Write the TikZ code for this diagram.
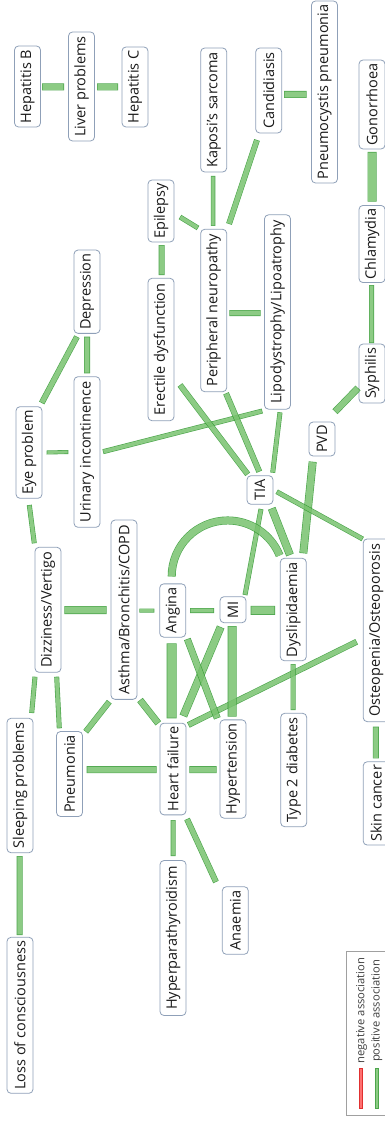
\documentclass[tikz,border=0pt]{standalone}
\usepackage{fontspec}
\setmainfont{Open Sans}
\usetikzlibrary{calc}
\definecolor{nodeborder}{HTML}{8FA0B8}
\definecolor{edgefill}{HTML}{78C26E}
\definecolor{edgeline}{HTML}{2D962D}
\definecolor{legfill}{HTML}{8CCB84}
\definecolor{legedge}{HTML}{4CA64C}
\definecolor{txt}{HTML}{1A1A1A}
\definecolor{negfill}{HTML}{FF7070}
\definecolor{negline}{HTML}{E03030}
\definecolor{legline}{HTML}{A0A0A0}
\newcommand\lk[3]{\begin{scope}[transparency group, opacity=0.85]\draw[lnk=#1] #2 -- #3;\end{scope}}
\begin{document}
\begin{tikzpicture}[x=1pt,y=-1pt,
  box/.style={draw=nodeborder, line width=0.8pt, rounded corners=4pt, rotate=90,
    minimum height=26pt, minimum width=#1pt, inner xsep=3pt, inner ysep=1pt,
    font=\fontsize{14.5}{16}\selectfont, text=txt, fill=white},
  box/.default=26,
  lnk/.style={draw=edgeline, double=edgefill, line width=0.6pt,
    double distance=#1pt-1.2pt, line cap=rect,
    shorten <=#1pt/2, shorten >=#1pt/2},
  arclnk/.style={draw=edgeline, double=edgefill, line width=0.6pt,
    double distance=#1pt-1.2pt},
  legtext/.style={rotate=90, font=\fontsize{11.2}{13}\selectfont, text=txt!85, inner sep=0pt},
  legbar/.style={rotate=90, minimum width=40pt, minimum height=3.7pt, inner sep=0pt, line width=0.6pt}
]
\useasboundingbox (0,0) rectangle (385,1123);

% nodes
\node[box=81]    (hepb)   at (27.5,86.5)  {Hepatitis B};
\node[box=109]   (liver)  at (81.5,86.5)  {Liver problems};
\node[box=80]    (hepc)   at (135,87)     {Hepatitis C};
\node[box=124]   (kaposi) at (213.7,110)  {Kaposi’s sarcoma};
\node[box=85]    (candid) at (268.7,90.5) {Candidiasis};
\node[box=182]   (pcp)    at (324.5,92)   {Pneumocystis pneumonia};
\node[box=89]    (gono)   at (372,104.5)  {Gonorrhoea};
\node[box=76.7]  (chlam)  at (372,244)    {Chlamydia};
\node[box=59]    (syph)   at (372,373.5)  {Syphilis};
\node[box=33.3]  (pvd)    at (322,439)    {PVD};
\node[box=62]    (epil)   at (161,211)    {Epilepsy};
\node[box=142.4] (erect)  at (161,349.5)  {Erectile dysfunction};
\node[box=83.3]  (depr)   at (87,291.7)   {Depression};
\node[box=150.6] (urin)   at (87,452)     {Urinary incontinence};
\node[box=91.6]  (eye)    at (29,452.5)   {Eye problem};
\node[box=162.4] (perneur) at (213.7,310.5) {Peripheral neuropathy};
\node[box=194.3] (lipo)   at (277.5,312)  {Lipodystrophy/Lipoatrophy};
\node[box=28.6]  (tia)    at (260,490)    {TIA};
\node[box=102.4] (dysl)   at (293.3,609.5) {Dyslipidaemia};
\node[box=26]    (mi)     at (233,609.7)  {MI};
\node[box=182.7] (osteo)  at (376.2,630.3) {Osteopenia/Osteoporosis};
\node[box=113.4] (t2d)    at (293.7,770)  {Type 2 diabetes};
\node[box=83.3]  (skin)   at (376.2,803.4) {Skin cancer};
\node[box=98.3]  (hyper)  at (233,769)    {Hypertension};
\node[box=53.3]  (angina) at (172.7,610.5) {Angina};
\node[box=179.3] (asthma) at (124,609.7)  {Asthma/Bronchitis/COPD};
\node[box=125]   (dizzy)  at (48,609.8)   {Dizziness/Vertigo};
\node[box=134.4] (sleep)  at (20,785.5)   {Sleeping problems};
\node[box=85]    (pneum)  at (69.5,774)   {Pneumonia};
\node[box=91.7]  (hf)     at (173,769)    {Heart failure};
\node[box=155]   (hpt)    at (173,938)    {Hyperparathyroidism};
\node[box=67.6]  (anaem)  at (235.3,920.5) {Anaemia};
\node[box=156]   (loc)    at (20,1015.3)  {Loss of consciousness};

% connectors
\lk{7}{([shift={(14.5,0.5)}]hepb.center)}{([shift={(-17.5,0.5)}]liver.center)}
\lk{7}{([shift={(15.5,0.5)}]liver.center)}{([shift={(-17,0)}]hepc.center)}
\lk{7}{([shift={(15.3,4)}]candid.center)}{([shift={(-17.8,2.5)}]pcp.center)}
\lk{9}{([shift={(0,47.5)}]gono.center)}{([shift={(0,-42.3)}]chlam.center)}
\lk{5}{([shift={(-0.5,41)}]chlam.center)}{([shift={(-0.5,-30.5)}]syph.center)}
\lk{7}{([shift={(-14,14.5)}]syph.center)}{([shift={(13,-27.3)}]pvd.center)}
\lk{4.5}{([shift={(-0.7,66)}]kaposi.center)}{([shift={(-0.7,-84.5)}]perneur.center)}
\lk{6}{([shift={(-11.7,49.5)}]candid.center)}{([shift={(15.3,-86.5)}]perneur.center)}
\lk{5}{([shift={(19,6)}]epil.center)}{([shift={(-15.7,-82.5)}]perneur.center)}
\lk{6}{([shift={(0.7,34)}]epil.center)}{([shift={(0.7,-74.5)}]erect.center)}
\lk{6}{([shift={(0,45)}]depr.center)}{([shift={(0,-78.7)}]urin.center)}
\lk{6}{([shift={(12.7,-49.5)}]eye.center)}{([shift={(-10,45)}]depr.center)}
\lk{4}{([shift={(17.7,0)}]eye.center)}{([shift={(-18.7,0)}]urin.center)}
\lk{5}{([shift={(16,-0.3)}]urin.center)}{([shift={(-15.2,99)}]lipo.center)}
\lk{6}{([shift={(19,35.5)}]erect.center)}{([shift={(-12.3,-15.7)}]tia.center)}
\lk{6}{([shift={(12.3,82.8)}]perneur.center)}{([shift={(-0.7,-18.3)}]tia.center)}
\lk{5}{([shift={(2.5,100.3)}]lipo.center)}{([shift={(12.7,-17.3)}]tia.center)}
\lk{6}{([shift={(15.6,2.5)}]perneur.center)}{([shift={(-16.8,1)}]lipo.center)}
\lk{8}{([shift={(-9.3,22.7)}]pvd.center)}{([shift={(10,-56.2)}]dysl.center)}
\lk{5}{([shift={(16.7,1.7)}]tia.center)}{([shift={(-13.5,-91.3)}]osteo.center)}
\lk{8}{([shift={(11.7,18.3)}]tia.center)}{([shift={(-3.3,-54.5)}]dysl.center)}
\lk{5}{([shift={(1,19)}]tia.center)}{([shift={(12,-14.7)}]mi.center)}
\begin{scope}[transparency group, opacity=0.85]
\draw[arclnk=8] ([shift={(-1,-7)}]angina.east) arc[start angle=180, end angle=338, radius=56] coordinate (arcend);
\end{scope}
\lk{9}{([shift={(17.7,0.6)}]mi.center)}{([shift={(-18.3,0.8)}]dysl.center)}
\lk{5}{([shift={(17.3,0)}]angina.center)}{([shift={(-19,0.8)}]mi.center)}
\lk{6}{([shift={(-19.5,11.4)}]osteo.center)}{([shift={(15.3,-44)}]hf.center)}
\lk{5}{([shift={(-0.3,54.5)}]dysl.center)}{([shift={(-0.7,-60)}]t2d.center)}
\lk{6}{([shift={(-0.4,96.4)}]osteo.center)}{([shift={(-0.4,-45)}]skin.center)}
\lk{7}{([shift={(16.3,0.7)}]hf.center)}{([shift={(-16.3,0.7)}]hyper.center)}
\lk{9}{([shift={(-0.8,16.3)}]mi.center)}{([shift={(-0.8,-52.3)}]hyper.center)}
\lk{8}{([shift={(-12.3,17.3)}]mi.center)}{([shift={(10.3,-53)}]hf.center)}
\lk{7}{([shift={(14.6,28.5)}]angina.center)}{([shift={(-15.7,-50.7)}]hyper.center)}
\lk{10}{([shift={(-1,32.8)}]angina.center)}{([shift={(-1.3,-50.7)}]hf.center)}
\lk{4}{([shift={(15.3,0.8)}]asthma.center)}{([shift={(-18.4,0)}]angina.center)}
\lk{8}{([shift={(16.3,0.2)}]dizzy.center)}{([shift={(-17.3,0.3)}]asthma.center)}
\lk{5}{([shift={(0.3,52.5)}]eye.center)}{([shift={(-13.7,-66.5)}]dizzy.center)}
\lk{5}{([shift={(-13,66.9)}]dizzy.center)}{([shift={(11.7,-72.5)}]sleep.center)}
\lk{5}{([shift={(8.7,66.9)}]dizzy.center)}{([shift={(-10.2,-45.7)}]pneum.center)}
\lk{6}{([shift={(-14.7,92)}]asthma.center)}{([shift={(16.2,-42.3)}]pneum.center)}
\lk{7}{([shift={(16,90.3)}]asthma.center)}{([shift={(-14.7,-45.7)}]hf.center)}
\lk{7}{([shift={(17.2,-4.3)}]pneum.center)}{([shift={(-16.3,0.7)}]hf.center)}
\lk{5}{([shift={(0.2,51)}]hf.center)}{([shift={(0.2,-82)}]hpt.center)}
\lk{6}{([shift={(14,50)}]hf.center)}{([shift={(-19.3,-38.5)}]anaem.center)}
\lk{6}{([shift={(-0.3,70.5)}]sleep.center)}{([shift={(-0.3,-80.3)}]loc.center)}

% legend
\draw[legline, line width=0.8pt] (346.7,951.7) rectangle (390,1115.7);
\node[legtext] (negl) at (361.5,1010.5) {negative association};
\node[legtext] (posl) at (376.8,1011) {positive association};
\node[legbar, draw=negline, fill=negfill] (negbar) at (360.8,1088.3) {};
\node[legbar, draw=legedge, fill=legfill] (posbar) at (376.8,1088.3) {};
\end{tikzpicture}
\end{document}
